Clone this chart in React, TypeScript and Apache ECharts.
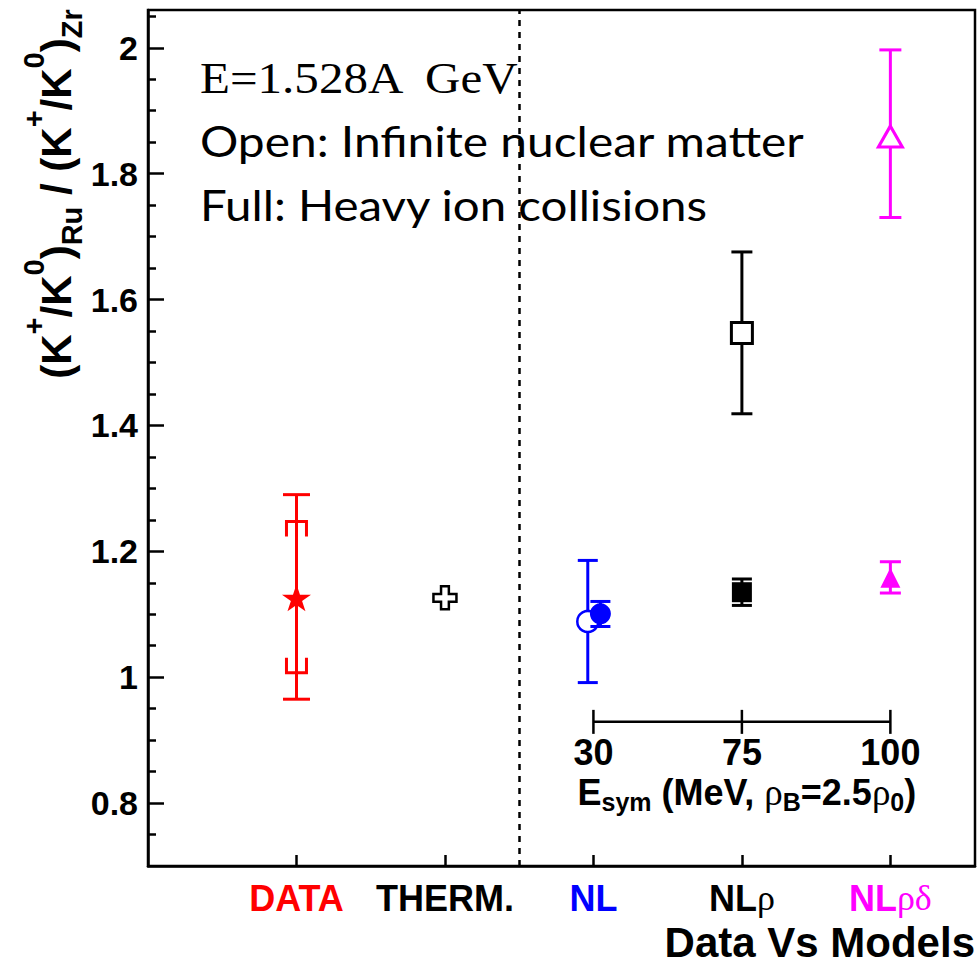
import React, { useEffect, useRef } from 'react';
import * as echarts from 'echarts';

// ---------- data ----------
const categories = ['DATA', 'THERM.', 'NL', 'NLρ', 'NLρδ'];
const categoryPos = [1, 2, 3, 4, 5];
const yMajorTicks = [0.8, 1.0, 1.2, 1.4, 1.6, 1.8, 2.0];
const yMinorTicks = [0.75, 0.85, 0.9, 0.95, 1.05, 1.1, 1.15, 1.25, 1.3, 1.35, 1.45, 1.5, 1.55, 1.65, 1.7, 1.75, 1.85, 1.9, 1.95, 2.05];
const esymTickLabels = ['30', '75', '100'];
const esymPos = [3, 4, 5];

// [x, value, low, high]
const dataPoint = [[1, 1.126, 0.965, 1.29]];
// [x, sysLow, sysHigh]
const dataSyst = [[1, 1.007, 1.2475]];
const thermPoint = [[2, 1.126]];
const nlOpen = [[2.962, 1.0885, 0.9914, 1.1855]];
const nlFull = [[3.047, 1.1007, 1.0805, 1.1203]];
const nlRhoOpen = [[4, 1.547, 1.4185, 1.6756]];
const nlRhoFull = [[4, 1.135, 1.114, 1.156]];
const nlRhoDeltaOpen = [[5, 1.859, 1.7303, 1.9966]];
const nlRhoDeltaFull = [[5, 1.158, 1.1337, 1.1834]];

// ---------- layout / style constants ----------
const DIVIDER_X = 2.5;
const INSET_Y = 0.929;
const X_MIN = 0;
const X_MAX = 5.57;
const Y_MIN = 0.7;
const Y_MAX = 2.06;
const SANS = '"Liberation Sans", Arial, Helvetica, sans-serif';
const SERIF = '"Liberation Serif", "Times New Roman", serif';
const RED = '#ff0000';
const BLUE = '#0000ff';
const MAG = '#ff00ff';
const BLACK = '#000000';
const catColors = [RED, BLACK, BLUE, BLACK, MAG];

const STAR = 'path://M50,0 L61.8,35.1 L98.9,35.1 L68.9,56.8 L80.3,91.9 L50,70.2 L19.7,91.9 L31.1,56.8 L1.1,35.1 L38.2,35.1 Z';
const CROSS = 'path://M33,0 L67,0 L67,33 L100,33 L100,67 L67,67 L67,100 L33,100 L33,67 L0,67 L0,33 L33,33 Z';

function errorBarSeries(data: number[][], color: string, halfCap: number, z: number) {
  return {
    type: 'custom',
    z,
    data,
    encode: { x: 0, y: [1, 2, 3] },
    renderItem: (params: any, api: any) => {
      const x = api.value(0);
      const lo = api.coord([x, api.value(2)]);
      const hi = api.coord([x, api.value(3)]);
      const st = { stroke: color, lineWidth: 3 };
      return {
        type: 'group',
        children: [
          { type: 'line', shape: { x1: lo[0], y1: lo[1], x2: hi[0], y2: hi[1] }, style: st },
          { type: 'line', shape: { x1: hi[0] - halfCap, y1: hi[1], x2: hi[0] + halfCap, y2: hi[1] }, style: st },
          { type: 'line', shape: { x1: lo[0] - halfCap, y1: lo[1], x2: lo[0] + halfCap, y2: lo[1] }, style: st },
        ],
      };
    },
  };
}

function markerSeries(data: number[][], symbol: string, size: any, fill: string, stroke: string, z: number, borderWidth = 0) {
  return {
    type: 'scatter',
    z,
    data: data.map((d) => [d[0], d[1]]),
    symbol,
    symbolSize: size,
    itemStyle: { color: fill, borderColor: stroke, borderWidth, opacity: 1 },
    emphasis: { disabled: true },
  };
}

function catLabelRich(i: number) {
  const name = categories[i];
  const m = name.match(/^([A-Za-z.]+)(.*)$/);
  const head = m ? m[1] : name;
  const tail = m ? m[2] : '';
  return `{c${i}|${head}}` + (tail ? `{g${i}|${tail}}` : '');
}

const xRich: any = {};
categories.forEach((_, i) => {
  xRich[`c${i}`] = { color: catColors[i], fontSize: 36, fontWeight: 'bold', fontFamily: SANS, lineHeight: 40 };
  xRich[`g${i}`] = { color: catColors[i], fontSize: 36, fontWeight: 'normal', fontFamily: SERIF, lineHeight: 40 };
});

const option: any = {
  animation: false,
  backgroundColor: '#ffffff',
  grid: {
    left: 148,
    top: 10,
    width: 827,
    height: 856,
    show: true,
    borderColor: BLACK,
    borderWidth: 2.5,
    backgroundColor: 'transparent',
  },
  xAxis: {
    type: 'value',
    min: X_MIN,
    max: X_MAX,
    splitLine: { show: false },
    axisLine: { show: true, lineStyle: { color: BLACK, width: 2.5 } },
    axisTick: { show: true, inside: true, length: 11, customValues: categoryPos, lineStyle: { color: BLACK, width: 2.5 } },
    axisLabel: {
      show: true,
      customValues: categoryPos,
      margin: 12,
      formatter: (v: number) => {
        const i = categoryPos.indexOf(Math.round(v));
        return i >= 0 ? catLabelRich(i) : '';
      },
      rich: xRich,
    },
  },
  yAxis: [
    {
      type: 'value',
      min: Y_MIN,
      max: Y_MAX,
      position: 'left',
      splitLine: { show: false },
      axisLine: { show: true, lineStyle: { color: BLACK, width: 2.5 } },
      axisTick: { show: true, inside: true, length: 16, customValues: yMajorTicks, lineStyle: { color: BLACK, width: 2.5 } },
      axisLabel: {
        show: true,
        customValues: yMajorTicks,
        margin: 10,
        color: BLACK,
        fontSize: 34,
        fontWeight: 'bold',
        fontFamily: SANS,
        formatter: (v: number) => String(parseFloat(v.toFixed(2))),
      },
    },
    {
      type: 'value',
      min: Y_MIN,
      max: Y_MAX,
      position: 'left',
      offset: 0,
      splitLine: { show: false },
      axisLine: { show: false },
      axisLabel: { show: false },
      axisTick: { show: true, inside: true, length: 8, customValues: yMinorTicks, lineStyle: { color: BLACK, width: 2.5 } },
    },
  ],
  graphic: [
    {
      type: 'text',
      x: 56,
      y: 194,
      rotation: Math.PI / 2,
      style: {
        text: '{p|(K}{sup|+}{p|/K}{sup|0}{p|)}{sub|Ru}{p| / (K}{sup|+}{p|/K}{sup|0}{p|)}{sub|Zr}',
        align: 'center',
        verticalAlign: 'middle',
        fill: BLACK,
        rich: {
          p: { fontSize: 42, fontWeight: 'bold', fontFamily: SANS, lineHeight: 74, fill: BLACK },
          sup: { fontSize: 29, fontWeight: 'bold', fontFamily: SANS, lineHeight: 29, verticalAlign: 'top', fill: BLACK },
          sub: { fontSize: 29, fontWeight: 'bold', fontFamily: SANS, lineHeight: 29, verticalAlign: 'bottom', padding: [0, 0, 7, 0], fill: BLACK },
        },
      },
    },
    {
      type: 'text',
      x: 200,
      y: 78,
      scaleX: 1.09,
      style: { text: 'E=1.528A  GeV', font: `45px ${SERIF}`, fill: BLACK, align: 'left', verticalAlign: 'middle' },
    },
    {
      type: 'text',
      x: 200,
      y: 141,
      scaleX: 1.14,
      style: { text: 'Open: Infinite nuclear matter', font: `42px Lato, ${SANS}`, fill: BLACK, align: 'left', verticalAlign: 'middle' },
    },
    {
      type: 'text',
      x: 200,
      y: 205,
      scaleX: 1.13,
      style: { text: 'Full: Heavy ion collisions', font: `42px Lato, ${SANS}`, fill: BLACK, align: 'left', verticalAlign: 'middle' },
    },
    {
      type: 'text',
      x: 975,
      y: 942,
      style: { text: 'Data Vs Models', font: `bold 42px ${SANS}`, fill: BLACK, align: 'right', verticalAlign: 'middle' },
    },
  ],
  series: [
    // inset E_sym axis
    {
      type: 'custom',
      z: 2,
      data: esymPos.map((p) => [p, INSET_Y]),
      encode: { x: 0, y: 1 },
      renderItem: (params: any, api: any) => {
        const idx = params.dataIndex;
        const p = api.coord([api.value(0), INSET_Y]);
        const st = { stroke: BLACK, lineWidth: 2.5 };
        const children: any[] = [
          { type: 'line', shape: { x1: p[0], y1: p[1] - 12, x2: p[0], y2: p[1] + 12 }, style: st },
          {
            type: 'text',
            x: p[0],
            y: p[1] + 31,
            style: { text: esymTickLabels[idx], font: `bold 36px ${SANS}`, fill: BLACK, align: 'center', verticalAlign: 'middle' },
          },
        ];
        if (idx === 0) {
          const pe = api.coord([esymPos[esymPos.length - 1], INSET_Y]);
          children.push({ type: 'line', shape: { x1: p[0], y1: p[1], x2: pe[0], y2: pe[1] }, style: st });
          children.push({
            type: 'text',
            x: (p[0] + pe[0]) / 2 + 5,
            y: p[1] + 71,
            style: {
              text: '{m|E}{s|sym}{m| (MeV, }{g|ρ}{s|B}{m|=2.5}{g|ρ}{s|0}{m|)}',
              align: 'center',
              verticalAlign: 'middle',
              fill: BLACK,
              rich: {
                m: { fontSize: 36, fontWeight: 'bold', fontFamily: SANS, lineHeight: 44, fill: BLACK },
                g: { fontSize: 37, fontWeight: 'normal', fontFamily: SERIF, lineHeight: 44, fill: BLACK },
                s: { fontSize: 25, fontWeight: 'bold', fontFamily: SANS, lineHeight: 25, verticalAlign: 'bottom', fill: BLACK },
              },
            },
          });
        }
        return { type: 'group', children };
      },
    },
    // DATA systematic brackets
    {
      type: 'custom',
      z: 3,
      data: dataSyst,
      encode: { x: 0, y: [1, 2] },
      renderItem: (params: any, api: any) => {
        const x = api.value(0);
        const lo = api.coord([x, api.value(1)]);
        const hi = api.coord([x, api.value(2)]);
        const h = 10;
        const leg = 15;
        const st = { stroke: RED, lineWidth: 3, fill: 'none' };
        return {
          type: 'group',
          children: [
            { type: 'polyline', shape: { points: [[hi[0] - h, hi[1] + leg], [hi[0] - h, hi[1]], [hi[0] + h, hi[1]], [hi[0] + h, hi[1] + leg]] }, style: st },
            { type: 'polyline', shape: { points: [[lo[0] - h, lo[1] - leg], [lo[0] - h, lo[1]], [lo[0] + h, lo[1]], [lo[0] + h, lo[1] - leg]] }, style: st },
          ],
        };
      },
    },
    errorBarSeries(dataPoint, RED, 13.5, 4),
    markerSeries(dataPoint, STAR, [29, 27], RED, RED, 5),
    {
      ...markerSeries(thermPoint, CROSS, 23, '#ffffff', BLACK, 5, 2.5),
      markLine: {
        silent: true,
        symbol: 'none',
        label: { show: false },
        lineStyle: { color: BLACK, width: 2.5, type: [6, 6] },
        data: [{ xAxis: DIVIDER_X }],
      },
    },
    errorBarSeries(nlOpen, BLUE, 10, 6),
    markerSeries(nlOpen, 'circle', 21, '#ffffff', BLUE, 7, 2.5),
    errorBarSeries(nlFull, BLUE, 10, 8),
    markerSeries(nlFull, 'circle', 21, BLUE, BLUE, 9),
    errorBarSeries(nlRhoOpen, BLACK, 10.5, 6),
    markerSeries(nlRhoOpen, 'rect', 21, '#ffffff', BLACK, 7, 3),
    errorBarSeries(nlRhoFull, BLACK, 10, 8),
    markerSeries(nlRhoFull, 'rect', 20, BLACK, BLACK, 9),
    errorBarSeries(nlRhoDeltaOpen, MAG, 11, 6),
    markerSeries(nlRhoDeltaOpen, 'triangle', [24, 21], '#ffffff', MAG, 7, 3),
    errorBarSeries(nlRhoDeltaFull, MAG, 10.5, 8),
    markerSeries(nlRhoDeltaFull, 'triangle', [20, 20], MAG, MAG, 9),
  ],
};

export default function App() {
  const ref = useRef<HTMLDivElement>(null);
  useEffect(() => {
    if (!ref.current) return;
    const chart = echarts.init(ref.current, null, { renderer: 'svg' });
    chart.setOption(option);
    return () => chart.dispose();
  }, []);
  return <div ref={ref} style={{ position: 'absolute', left: 0, top: 0, width: 980, height: 966 }} />;
}
